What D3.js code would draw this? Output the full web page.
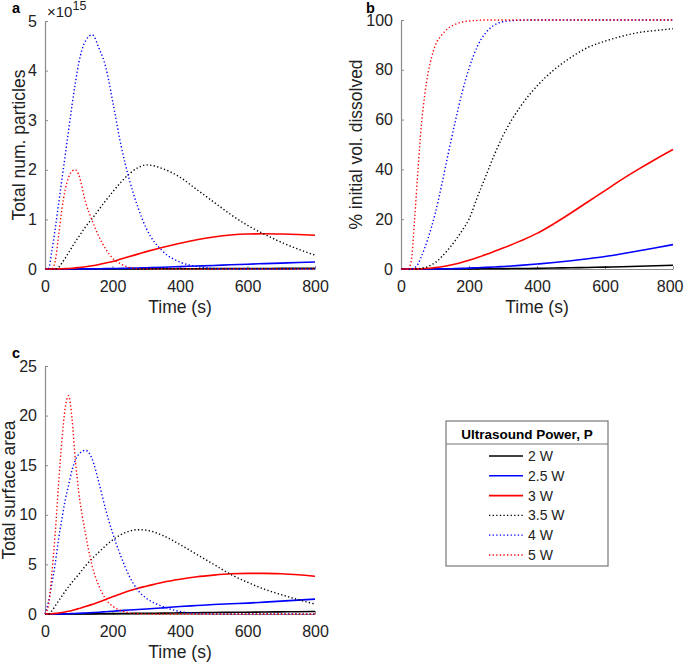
<!DOCTYPE html>
<html>
<head>
<meta charset="utf-8">
<script src="https://cdn.jsdelivr.net/npm/d3@7"></script>
<style>
  html, body { margin: 0; padding: 0; background: #fff; }
  svg { display: block; font-family: "Liberation Sans", Arial, Helvetica, sans-serif; }
</style>
</head>
<body>
<svg id="chart" width="685" height="664"></svg>
<script>
// ---------------- DATA ----------------
const time = [0,10,20,30,40,50,60,70,80,90,100,120,140,160,180,200,225,250,275,300,350,400,450,500,550,600,650,700,750,800];

const seriesNames = ["2 W", "2.5 W", "3 W", "3.5 W", "4 W", "5 W"];
const seriesColors = ["#000000", "#0000ff", "#ff0000", "#000000", "#0000ff", "#ff0000"];
const seriesDotted = [false, false, false, true, true, true];

// Panel a: total number of particles (x 1e15)
const particles2W  = [0,0,0,0,0,0,0,0,0,0,0,0,0,0,0,0.001,0.001,0.002,0.002,0.003,0.004,0.005,0.006,0.008,0.009,0.01,0.011,0.012,0.014,0.015];
const particles25W = [0,0,0,0,0,0,0,0,0,0,0.001,0.002,0.003,0.005,0.007,0.01,0.013,0.017,0.021,0.026,0.036,0.048,0.06,0.072,0.085,0.097,0.108,0.119,0.13,0.14];
const particles3W  = [0,0,0,0.001,0.002,0.004,0.007,0.011,0.016,0.022,0.03,0.045,0.065,0.09,0.12,0.15,0.2,0.25,0.3,0.35,0.44,0.52,0.59,0.645,0.685,0.705,0.71,0.705,0.695,0.68];
const particles35W = [0,0,0,0,0.03,0.12,0.22,0.33,0.44,0.55,0.65,0.85,1.02,1.2,1.38,1.55,1.75,1.92,2.04,2.1,2.02,1.85,1.6,1.35,1.1,0.88,0.7,0.54,0.4,0.28];
const particles4W  = [0,0,0.35,0.8,1.3,1.8,2.3,2.8,3.3,3.75,4.15,4.6,4.72,4.45,4.07,3.4,2.5,1.8,1.25,0.82,0.35,0.14,0.05,0.01,0,0,0,0,0,0];
const particles5W  = [0,0,0,0.15,0.65,1.2,1.6,1.85,1.97,2.0,1.9,1.35,0.97,0.65,0.4,0.22,0.1,0.03,0.01,0,0,0,0,0,0,0,0,0,0,0];

// Panel b: % initial volume dissolved
const dissolved2W  = [0,0,0,0,0,0,0,0,0,0,0,0.01,0.02,0.03,0.04,0.05,0.07,0.09,0.12,0.15,0.2,0.27,0.38,0.5,0.62,0.75,0.9,1.1,1.3,1.5];
const dissolved25W = [0,0,0,0,0,0,0,0,0,0.01,0.02,0.05,0.1,0.15,0.25,0.35,0.5,0.65,0.8,1.0,1.45,2.0,2.6,3.3,4.1,5.0,6.1,7.3,8.5,9.8];
const dissolved3W  = [0,0,0,0,0.03,0.07,0.12,0.2,0.3,0.43,0.6,0.9,1.4,2.0,2.7,3.5,4.6,5.8,7.1,8.4,11.2,14.3,18.2,22.5,27,31.5,36,40.2,44.2,48];
const dissolved35W = [0,0,0,0,0,0.1,0.3,0.6,1.0,1.7,2.5,5,8,11.5,15.5,20,29,37.5,46,53.5,65,73.5,80,85,89,91.5,93.5,95,95.8,96.5];
const dissolved4W  = [0,0,0,0,0.5,2,5,8.5,12.5,17,22,34,47,59.5,71,80.5,89.5,95,98,99.3,99.9,100,100,100,100,100,100,100,100,100];
const dissolved5W  = [0,0,0,3,20,40,58,70,79,85,89.5,94,96.8,98.3,99.2,99.6,99.85,100,100,100,100,100,100,100,100,100,100,100,100,100];

// Panel c: total surface area
const surface2W  = [0,0,0,0,0,0,0,0,0,0,0.005,0.01,0.015,0.02,0.03,0.035,0.045,0.055,0.065,0.075,0.09,0.11,0.13,0.15,0.165,0.18,0.2,0.215,0.23,0.25];
const surface25W = [0,0,0,0,0.005,0.01,0.02,0.03,0.04,0.05,0.07,0.1,0.14,0.18,0.23,0.28,0.34,0.4,0.45,0.5,0.62,0.75,0.85,0.95,1.03,1.1,1.2,1.3,1.4,1.5];
const surface3W  = [0,0.01,0.03,0.06,0.1,0.15,0.21,0.28,0.36,0.45,0.55,0.75,0.97,1.2,1.47,1.75,2.05,2.35,2.6,2.8,3.2,3.5,3.75,3.92,4.05,4.1,4.1,4.05,3.95,3.8];
const surface35W = [0,0,0.3,0.8,1.3,1.8,2.3,2.75,3.2,3.6,4.0,4.85,5.6,6.25,6.9,7.45,8.0,8.35,8.5,8.45,7.9,7.0,6.0,5.0,4.0,3.2,2.5,1.95,1.45,1.0];
const surface4W  = [0,1.2,3,5,7.5,9.6,11.5,13,14.5,15.5,16.1,16.5,15.6,13.2,10.5,8.2,5.8,3.8,2.4,1.6,0.75,0.25,0.08,0.02,0,0,0,0,0,0];
const surface5W  = [0,0.8,4,8,13,17.5,20.8,22,19.7,15.5,12.3,8.1,4.8,2.8,1.5,0.8,0.35,0.12,0.04,0.01,0,0,0,0,0,0,0,0,0,0];

const xTicks = [0, 200, 400, 600, 800];
const yTicksA = [0, 1, 2, 3, 4, 5];
const yTicksB = [0, 20, 40, 60, 80, 100];
const yTicksC = [0, 5, 10, 15, 20, 25];

// ---------------- DRAW ----------------
const svg = d3.select("#chart");
const axisColor = "#8a8a8a";
const textColor = "#222";

function panel(opts) {
  const { x0, x1, y0, y1, yDomain, yTicks, series, yTitle, yTitleX, label, labelX, labelY } = opts;
  const x = d3.scaleLinear().domain([0, 800]).range([x0, x1]);
  const y = d3.scaleLinear().domain(yDomain).range([y1, y0]);
  const g = svg.append("g");

  const line = d3.line()
    .x((d, i) => x(time[i]))
    .y(d => y(d))
    .curve(d3.curveMonotoneX);

  const ax = g.append("g").attr("transform", `translate(0,${y1})`)
    .call(d3.axisBottom(x).tickValues(xTicks).tickSize(-3).tickSizeOuter(0).tickPadding(11.5).tickFormat(d3.format("d")));
  const ay = g.append("g").attr("transform", `translate(${x0},0)`)
    .call(d3.axisLeft(y).tickValues(yTicks).tickSize(-3).tickSizeOuter(0).tickPadding(8).tickFormat(d3.format("d")));
  [ax, ay].forEach(a => {
    a.select(".domain").attr("stroke", axisColor).attr("stroke-width", 1.2);
    a.selectAll(".tick line").attr("stroke", axisColor).attr("stroke-width", 1);
    a.selectAll(".tick text").attr("fill", textColor).attr("font-size", 16)
      .attr("font-family", "Liberation Sans, Arial, sans-serif");
  });

  series.forEach((vals, k) => {
    g.append("path")
      .datum(vals)
      .attr("d", line)
      .attr("fill", "none")
      .attr("stroke", seriesColors[k])
      .attr("stroke-width", seriesDotted[k] ? 1.4 : 1.6)
      .attr("stroke-dasharray", seriesDotted[k] ? "1.3,2.3" : null);
  });

  g.append("text")
    .attr("x", (x0 + x1) / 2).attr("y", y1 + 44)
    .attr("text-anchor", "middle").attr("font-size", 17.5).attr("fill", textColor)
    .text("Time (s)");
  g.append("text")
    .attr("transform", `translate(${yTitleX},${(y0 + y1) / 2}) rotate(-90)`)
    .attr("text-anchor", "middle").attr("font-size", 17.5).attr("fill", textColor)
    .text(yTitle);
  g.append("text")
    .attr("x", labelX).attr("y", labelY)
    .attr("font-size", 14.5).attr("font-weight", "bold").attr("fill", "#000")
    .text(label);
  return { x, y, g, ax };
}

const pa = panel({
  x0: 45, x1: 315, y0: 21, y1: 269, yDomain: [0, 5], yTicks: yTicksA,
  series: [particles2W, particles25W, particles3W, particles35W, particles4W, particles5W],
  yTitle: "Total num. particles", yTitleX: 25, label: "a", labelX: 12, labelY: 13
});
const expText = pa.g.append("text").attr("x", 47).attr("y", 17)
  .attr("font-size", 15).attr("fill", textColor);
expText.append("tspan").text("\u00d710");
expText.append("tspan").attr("font-size", 12.5).attr("dy", -7).text("15");

const pb = panel({
  x0: 401, x1: 673, y0: 20, y1: 269, yDomain: [0, 100], yTicks: yTicksB,
  series: [dissolved2W, dissolved25W, dissolved3W, dissolved35W, dissolved4W, dissolved5W],
  yTitle: "% initial vol. dissolved", yTitleX: 362, label: "b", labelX: 366, labelY: 13
});
// keep the last x tick label of panel b inside the picture
pb.ax.selectAll(".tick text").filter(d => d === 800).attr("text-anchor", "end").attr("dx", 10);

panel({
  x0: 45, x1: 315, y0: 366, y1: 614, yDomain: [0, 25], yTicks: yTicksC,
  series: [surface2W, surface25W, surface3W, surface35W, surface4W, surface5W],
  yTitle: "Total surface area", yTitleX: 15, label: "c", labelX: 12, labelY: 358
});

// ---------------- LEGEND ----------------
const lg = svg.append("g");
lg.append("rect").attr("x", 446).attr("y", 421).attr("width", 162).attr("height", 145)
  .attr("fill", "#fff").attr("stroke", "#777").attr("stroke-width", 1.2);
lg.append("line").attr("x1", 446).attr("x2", 608).attr("y1", 444).attr("y2", 444)
  .attr("stroke", "#777").attr("stroke-width", 1.2);
lg.append("text").attr("x", 527).attr("y", 439).attr("text-anchor", "middle")
  .attr("font-size", 13.5).attr("font-weight", "bold").attr("fill", "#000")
  .text("Ultrasound Power, P");
const legendY = d3.scalePoint().domain(seriesNames).range([456, 555]);
seriesNames.forEach((name, k) => {
  const yy = legendY(name);
  lg.append("line").attr("x1", 489).attr("x2", 523).attr("y1", yy).attr("y2", yy)
    .attr("stroke", seriesColors[k]).attr("stroke-width", seriesDotted[k] ? 1.3 : 1.6)
    .attr("stroke-dasharray", seriesDotted[k] ? "1.3,2.3" : null);
  lg.append("text").attr("x", 528).attr("y", yy + 5).attr("font-size", 14).attr("fill", textColor)
    .text(name);
});
</script>
</body>
</html>
